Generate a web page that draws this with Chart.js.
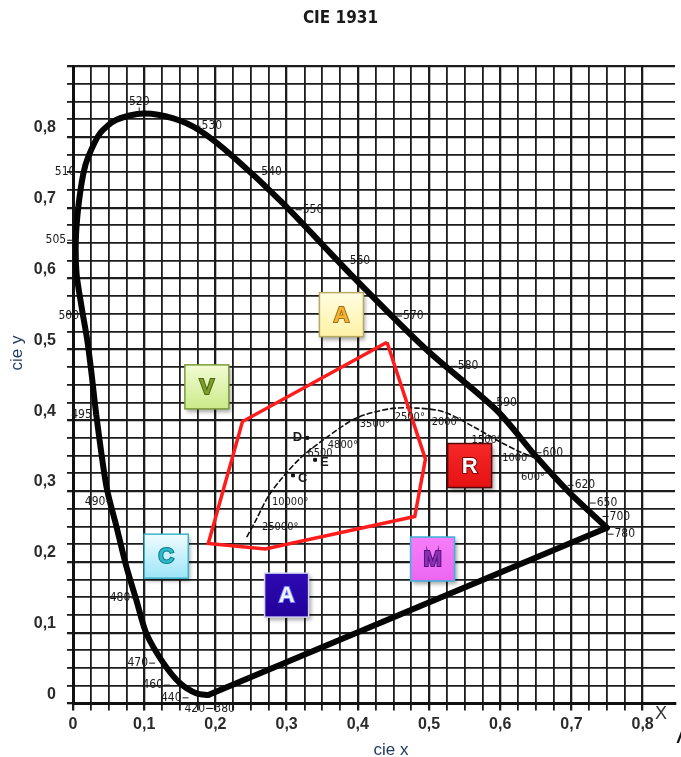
<!DOCTYPE html>
<html lang="en">
<head>
<meta charset="UTF-8" />
<title>CIE 1931</title>
<script src="https://cdn.jsdelivr.net/npm/chart.js"></script>
<style>
  * { margin: 0; padding: 0; box-sizing: border-box; }
  body { background: #fff; width: 681px; height: 757px; overflow: hidden; }
  canvas { display: block; }
</style>
</head>
<body>
<canvas id="cie" width="681" height="757"></canvas>
<script>
// spectral locus, from the 380 nm corner round to 780 nm
const locusX = [0.190, 0.174, 0.150, 0.127, 0.103, 0.089, 0.075, 0.061, 0.047, 0.033, 0.026, 0.020, 0.012, 0.005, 0.004, 0.0075, 0.0145, 0.0215, 0.038, 0.061, 0.099, 0.141, 0.178, 0.225, 0.295, 0.389, 0.497, 0.595, 0.651, 0.698, 0.750];
const locusY = [0.012, 0.014, 0.029, 0.057, 0.099, 0.146, 0.193, 0.250, 0.306, 0.405, 0.466, 0.513, 0.560, 0.607, 0.654, 0.701, 0.748, 0.772, 0.805, 0.824, 0.833, 0.826, 0.809, 0.772, 0.706, 0.607, 0.499, 0.414, 0.348, 0.297, 0.248];
// line of purples
const purpleX = [0.190, 0.750];
const purpleY = [0.012, 0.248];

// wavelength marks (nm)
const waveNames = ['520', '530', '540', '550', '560', '570', '580', '590', '600', '620', '650', '700', '780',
                   '510', '505', '500', '495', '490', '480', '470', '460', '440', '420', '380'];
const waveX = [0.093, 0.195, 0.279, 0.337, 0.403, 0.478, 0.555, 0.609, 0.674, 0.719, 0.750, 0.768, 0.775,
               -0.011, -0.024, -0.006, 0.012, 0.031, 0.066, 0.091, 0.112, 0.138, 0.171, 0.213];
const waveY = [0.850, 0.815, 0.751, 0.697, 0.625, 0.547, 0.476, 0.424, 0.354, 0.308, 0.283, 0.264, 0.239,
               0.750, 0.654, 0.547, 0.408, 0.285, 0.149, 0.057, 0.026, 0.008, -0.007, -0.007];

// planckian locus
const planckX = [0.244, 0.256, 0.274, 0.295, 0.321, 0.354, 0.398, 0.445, 0.483, 0.520, 0.562, 0.595, 0.628, 0.651];
const planckY = [0.235, 0.257, 0.292, 0.320, 0.348, 0.374, 0.403, 0.416, 0.417, 0.412, 0.391, 0.372, 0.355, 0.346];
const tempNames = ['25000°', '10000°', '6500', '4800°', '3500°', '2500°', '2000°', '1500°', '1000°', '600°'];
const tempX = [0.291, 0.305, 0.347, 0.379, 0.424, 0.473, 0.525, 0.581, 0.624, 0.646];
const tempY = [0.249, 0.284, 0.354, 0.365, 0.394, 0.404, 0.397, 0.372, 0.346, 0.320];

// illuminants
const illumNames = ['D', 'E', 'C'];
const illumX = [0.329, 0.340, 0.309];
const illumY = [0.375, 0.344, 0.322];

// red gamut outline
const gamutX = [0.441, 0.495, 0.480, 0.270, 0.190, 0.238];
const gamutY = [0.510, 0.345, 0.264, 0.218, 0.226, 0.398];

// colour name boxes
const boxNames = ['A', 'V', 'C', 'A', 'M', 'R'];
const boxX = [0.377, 0.188, 0.131, 0.300, 0.505, 0.557];
const boxY = [0.549, 0.447, 0.208, 0.153, 0.204, 0.336];

const boxLook = [
  { top: '#fffde2', bottom: '#fff2a6', edge: '#b9aa62', letter: '#f2b233', outline: '#a8701a' },
  { top: '#f2fcd4', bottom: '#cbea8a', edge: '#7d9b3c', letter: '#7f9d2c', outline: '#4c6812' },
  { top: '#effcff', bottom: '#9de5f7', edge: '#3db3cb', letter: '#2cb9cd', outline: '#11788a' },
  { top: '#2d0ab2', bottom: '#23009a', edge: '#d4d4f2', letter: '#eef3ff', outline: '#6f78ff' },
  { top: '#f57ef9', bottom: '#ec66f1', edge: '#3ab4d8', letter: '#8b32b2', outline: '#58107e' },
  { top: '#f52828', bottom: '#e61212', edge: '#560808', letter: '#ffffff', outline: '#7a0000' }
];

const NARROW = '"Liberation Sans Narrow", "DejaVu Sans Condensed", "Liberation Sans", sans-serif';
const SANS = '"Liberation Sans", Arial, sans-serif';

const pts = (xs, ys) => xs.map((v, i) => ({ x: v, y: ys[i] }));
const isTenth = v => Math.abs(v * 10 - Math.round(v * 10)) < 1e-6;
const onGrid = s => { s.ticks = s.ticks.filter(t => Math.abs(t.value / 0.025 - Math.round(t.value / 0.025)) < 1e-6); };
const tenthLabel = v => {
  if (!isTenth(v) || v > 0.85) return '';
  const r = Math.round(v * 10);
  return r === 0 ? '0' : '0,' + r;
};
const gridWidth = c => (c.tick && isTenth(c.tick.value) ? 2.3 : 1.8);

const gamut = pts(gamutX, gamutY);
gamut.push(gamut[0]);

const annotate = {
  id: 'annotate',
  afterDatasetsDraw(chart) {
    const { ctx } = chart;
    const px = v => chart.scales.x.getPixelForValue(v);
    const py = v => chart.scales.y.getPixelForValue(v);
    ctx.save();
    ctx.fillStyle = '#1a1a1a';
    ctx.strokeStyle = '#1a1a1a';
    ctx.lineWidth = 1;
    ctx.textBaseline = 'middle';
    ctx.textAlign = 'center';

    // wavelength labels with small dashes toward the locus
    ctx.font = '12px ' + NARROW;
    waveNames.forEach((name, i) => {
      const x = px(waveX[i]), y = py(waveY[i]);
      const w = ctx.measureText(name).width;
      const nm = +name;
      ctx.fillText(name, x, y);
      ctx.beginPath();
      if (nm === 520) { ctx.moveTo(x, y + 6); ctx.lineTo(x, y + 11); }
      else if (nm < 520 && nm > 380) { ctx.moveTo(x + w / 2 + 1, y); ctx.lineTo(x + w / 2 + 7, y); }
      else { ctx.moveTo(x - w / 2 - 1, y); ctx.lineTo(x - w / 2 - 7, y); }
      ctx.stroke();
    });

    // colour temperatures
    ctx.font = '11px ' + NARROW;
    tempNames.forEach((name, i) => ctx.fillText(name, px(tempX[i]), py(tempY[i])));

    // illuminant letters
    ctx.font = 'bold 13px ' + SANS;
    illumNames.forEach((name, i) => {
      const left = i === 0;
      ctx.textAlign = left ? 'right' : 'left';
      ctx.fillText(name, px(illumX[i]) + (left ? -5 : 5), py(illumY[i]) + (left ? 0 : 3));
    });

    // colour boxes
    boxNames.forEach((name, i) => {
      const look = boxLook[i];
      const cx = px(boxX[i]), cy = py(boxY[i]);
      const s = 44, x0 = cx - s / 2, y0 = cy - s / 2;
      ctx.save();
      ctx.shadowColor = 'rgba(0,0,0,0.35)';
      ctx.shadowBlur = 4;
      ctx.shadowOffsetX = 2;
      ctx.shadowOffsetY = 3;
      const g = ctx.createLinearGradient(0, y0, 0, y0 + s);
      g.addColorStop(0, look.top);
      g.addColorStop(1, look.bottom);
      ctx.fillStyle = g;
      ctx.fillRect(x0, y0, s, s);
      ctx.restore();
      ctx.strokeStyle = look.edge;
      ctx.lineWidth = 1.5;
      ctx.strokeRect(x0, y0, s, s);
      ctx.font = 'bold 22px ' + SANS;
      ctx.textAlign = 'center';
      ctx.lineWidth = 2;
      ctx.strokeStyle = look.outline;
      ctx.strokeText(name, cx, cy + 1);
      ctx.fillStyle = look.letter;
      ctx.fillText(name, cx, cy + 1);
    });
    ctx.restore();
  },
  afterDraw(chart) {
    const { ctx } = chart;
    ctx.save();
    ctx.textBaseline = 'middle';
    ctx.textAlign = 'center';
    ctx.fillStyle = '#213b5e';
    ctx.font = '17px ' + SANS;
    ctx.fillText('cie x', 391, 750);
    ctx.save();
    ctx.translate(17, 353);
    ctx.rotate(-Math.PI / 2);
    ctx.fillText('cie y', 0, 0);
    ctx.restore();
    ctx.fillStyle = '#333';
    ctx.font = '18px ' + SANS;
    ctx.fillText('X', 661, 714);
    ctx.fillStyle = '#111';
    ctx.font = 'italic bold 20px ' + SANS;
    ctx.fillText('/', 680, 737);
    ctx.restore();
  }
};

new Chart(document.getElementById('cie'), {
  type: 'scatter',
  data: {
    datasets: [
      { data: gamut, showLine: true, borderColor: '#ff1c1c', borderWidth: 3.5, pointRadius: 0, tension: 0 },
      { data: pts(illumX, illumY), borderColor: '#111', backgroundColor: '#111', pointStyle: 'rect', pointRadius: 2 },
      { data: pts(planckX, planckY), showLine: true, borderColor: '#111', borderWidth: 1.6, borderDash: [6, 2], pointRadius: 0, tension: 0.3 },
      { data: pts(purpleX, purpleY), showLine: true, borderColor: '#050505', borderWidth: 6, pointRadius: 0, tension: 0 },
      { data: pts(locusX, locusY), showLine: true, borderColor: '#050505', borderWidth: 6, pointRadius: 0, tension: 0.28, borderCapStyle: 'round', borderJoinStyle: 'round' }
    ]
  },
  options: {
    responsive: false,
    animation: false,
    layout: { padding: { left: 6, right: 6, top: 0, bottom: 0 } },
    plugins: {
      legend: { display: false },
      tooltip: { enabled: false },
      title: {
        display: true,
        text: 'CIE 1931',
        color: '#1a1a1a',
        font: { family: NARROW, size: 17, weight: 'bold' },
        padding: { top: 8, bottom: 37.6 }
      }
    },
    scales: {
      x: {
        type: 'linear',
        min: 0,
        max: 0.8455,
        afterBuildTicks: onGrid,
        afterFit: s => { s.height = 53.5; },
        ticks: { stepSize: 0.025, autoSkip: false, maxRotation: 0, padding: 4, color: '#2a2a2a',
                 font: { family: SANS, size: 16, weight: 'bold' }, callback: tenthLabel },
        grid: { color: '#1c1c1c', lineWidth: gridWidth, tickLength: 7 },
        border: { color: '#111', width: 3 }
      },
      y: {
        type: 'linear',
        min: 0,
        max: 0.9,
        afterBuildTicks: onGrid,
        afterFit: s => { s.width = 67; },
        ticks: { stepSize: 0.025, autoSkip: false, padding: 11, labelOffset: -9, color: '#2a2a2a',
                 font: { family: SANS, size: 16, weight: 'bold' }, callback: tenthLabel },
        grid: { color: '#1c1c1c', lineWidth: gridWidth, tickLength: 6 },
        border: { color: '#111', width: 3 }
      }
    }
  },
  plugins: [annotate]
});
</script>
</body>
</html>
